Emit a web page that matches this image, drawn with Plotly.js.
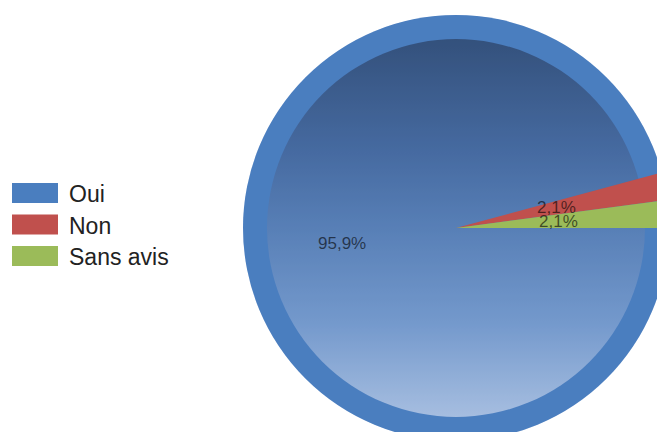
<!DOCTYPE html>
<html>
<head>
<meta charset="utf-8">
<script src="https://cdn.plot.ly/plotly-3.0.1.min.js"></script>
<style>
  html, body { margin: 0; padding: 0; overflow: hidden; background: #ffffff; }
  #chart { width: 700px; height: 460px; }
</style>
</head>
<body>
<div id="chart"></div>
<script>
// ---- data ----
const categories = ["Oui", "Non", "Sans avis"];
const values = [95.9, 2.1, 2.1];
const valueLabels = ["95,9%", "2,1%", "2,1%"];
const sliceColors = ["rgba(79,129,189,0.2)", "#c0504d", "#9bbb59"];
const legendColors = ["#4a7ebf", "#c0504d", "#9bbb59"];

// ---- geometry (layout) ----
const W = 700, H = 460;
const cx = 456, cy = 228, R = 213, Rin = 189;

const domX = [(cx - R) / W, (cx + R) / W];
const domY = [1 - (cy + R) / H, 1 - (cy - R) / H];

// decorative background: ring + vertical gradient disc
const svg =
  '<svg xmlns="http://www.w3.org/2000/svg" width="426" height="426" viewBox="0 0 426 426">' +
  '<defs><linearGradient id="g" x1="0" y1="0" x2="0" y2="1">' +
  '<stop offset="0" stop-color="#2d456c"/>' +
  '<stop offset="0.3" stop-color="#44659a"/>' +
  '<stop offset="0.5" stop-color="#5a7fb5"/>' +
  '<stop offset="0.75" stop-color="#7d9fd0"/>' +
  '<stop offset="1" stop-color="#bccde9"/>' +
  '</linearGradient></defs>' +
  '<circle cx="213" cy="213" r="213" fill="#497dc0"/>' +
  '<circle cx="213" cy="213" r="' + Rin + '" fill="url(#g)"/>' +
  '</svg>';
const svgUri = 'data:image/svg+xml;base64,' + btoa(svg);

// slice label positions from data (clockwise from 3 o'clock)
const total = values.reduce((a, b) => a + b, 0);
const annotations = [];
let acc = 0;
values.forEach((v, i) => {
  const mid = (acc + v / 2) / total * 2 * Math.PI;
  acc += v;
  const rf = i === 0 ? 0.54 : 0.48;
  const px = cx + Math.cos(mid) * R * rf;
  const py = cy + Math.sin(mid) * R * rf;
  annotations.push({
    xref: "paper", yref: "paper",
    x: px / W, y: 1 - py / H,
    text: valueLabels[i], showarrow: false,
    xanchor: "center", yanchor: "middle",
    font: { family: "Liberation Sans, Arial, sans-serif", size: 17, color: "rgba(0,0,0,0.6)" }
  });
});

// legend (drawn from categories)
const shapes = [];
categories.forEach((c, i) => {
  const yc = 193 + i * 31.5;
  shapes.push({
    type: "rect", xref: "paper", yref: "paper",
    x0: 12 / W, x1: 58 / W, y0: 1 - (yc + 10) / H, y1: 1 - (yc - 10) / H,
    fillcolor: legendColors[i], line: { width: 0 }
  });
  annotations.push({
    xref: "paper", yref: "paper",
    x: 67 / W, y: 1 - (yc + 1) / H,
    text: c, showarrow: false, xanchor: "left", yanchor: "middle",
    font: { family: "Liberation Sans, Arial, sans-serif", size: 23, color: "#222222" }
  });
});

const trace = {
  type: "pie",
  labels: categories,
  values: values,
  sort: false,
  direction: "clockwise",
  rotation: 90,
  marker: { colors: sliceColors, line: { width: 0 } },
  textinfo: "none",
  hoverinfo: "label+percent",
  showlegend: false,
  domain: { x: domX, y: domY }
};

const layout = {
  width: W, height: H,
  margin: { l: 0, r: 0, t: 0, b: 0, pad: 0 },
  paper_bgcolor: "#ffffff",
  showlegend: false,
  images: [{
    source: svgUri, xref: "paper", yref: "paper",
    x: (cx - R) / W, y: 1 - (cy - R) / H,
    sizex: 2 * R / W, sizey: 2 * R / H,
    xanchor: "left", yanchor: "top", sizing: "stretch", layer: "below"
  }],
  shapes: shapes,
  annotations: annotations
};

Plotly.newPlot("chart", [trace], layout, { displayModeBar: false, staticPlot: true });
</script>
</body>
</html>
